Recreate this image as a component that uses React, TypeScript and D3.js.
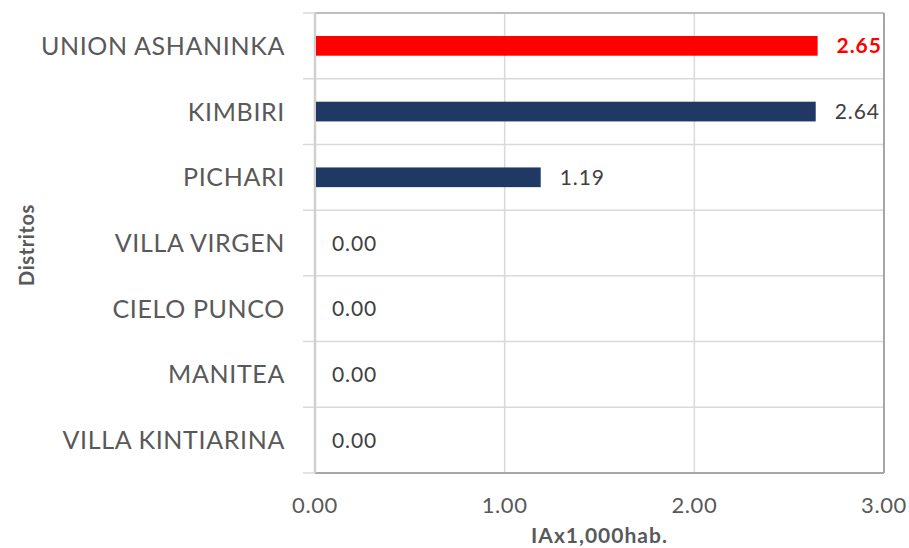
import React from 'react';
import * as d3 from 'd3';

const districts = ['UNION ASHANINKA', 'KIMBIRI', 'PICHARI', 'VILLA VIRGEN', 'CIELO PUNCO', 'MANITEA', 'VILLA KINTIARINA'];
const rates = [2.65, 2.64, 1.19, 0, 0, 0, 0];
const xTicks = [0, 1, 2, 3];
const highlight = 'UNION ASHANINKA';

const W = 909;
const H = 548;
const margin = { top: 13, right: 25, bottom: 75, left: 315 };
const FONT = 'Lato, "Open Sans", sans-serif';

export default function App() {
  const x = d3.scaleLinear().domain([0, 3]).range([margin.left, W - margin.right]);
  const y = d3.scaleBand<string>().domain(districts).range([margin.top, H - margin.bottom]).padding(0);
  const barH = y.bandwidth() * 0.3;
  const fmt = d3.format('.2f');
  const top = margin.top;
  const bottom = H - margin.bottom;

  return (
    <svg width={W} height={H} style={{ position: 'absolute', left: 0, top: 0, fontFamily: FONT }}>
      <rect width={W} height={H} fill="#fff" />
      {/* horizontal grid between categories */}
      {districts.map((d, i) => (
        i > 0 ? <line key={d} x1={303} x2={x(3)} y1={y(d)} y2={y(d)} stroke="#d9d9d9" strokeWidth={1.5} /> : null
      ))}
      <line x1={303} x2={x(0)} y1={top} y2={top} stroke="#d9d9d9" strokeWidth={1.5} />
      <line x1={303} x2={x(0)} y1={bottom} y2={bottom} stroke="#d9d9d9" strokeWidth={1.5} />
      {/* vertical grid */}
      {xTicks.slice(1, -1).map(t => (
        <line key={t} x1={x(t)} x2={x(t)} y1={top} y2={bottom} stroke="#d9d9d9" strokeWidth={1.5} />
      ))}
      {/* plot border */}
      <line x1={x(0)} x2={x(3)} y1={top} y2={top} stroke="#bfbfbf" strokeWidth={2} />
      <line x1={x(0)} x2={x(3)} y1={bottom} y2={bottom} stroke="#a6a6a6" strokeWidth={2} />
      <line x1={x(3)} x2={x(3)} y1={top} y2={bottom} stroke="#a6a6a6" strokeWidth={2} />
      <line x1={x(0)} x2={x(0)} y1={top} y2={bottom} stroke="#d0d0d0" strokeWidth={2.5} />

      {districts.map((d, i) => {
        const v = rates[i];
        const cy = (y(d) ?? 0) + y.bandwidth() / 2;
        const isHi = d === highlight;
        return (
          <g key={d}>
            {v > 0 && (
              <rect x={x(0) + 1} y={cy - barH / 2} width={x(v) - x(0) - 1} height={barH} fill={isHi ? '#ff0000' : '#203864'} />
            )}
            <text x={x(v) + (v > 0 ? 19 : 17)} y={cy} dy="0.36em" fontSize={21} letterSpacing={0.9}
              fill={isHi ? '#ff0000' : '#404040'} fontWeight={isHi ? 700 : 400}>
              {fmt(v)}
            </text>
            <text x={285} y={cy} dy="0.36em" textAnchor="end" fontSize={25} letterSpacing={0.65} fill="#595959">
              {d}
            </text>
          </g>
        );
      })}

      {xTicks.map(t => (
        <text key={t} x={x(t)} y={505} dy="0.36em" textAnchor="middle" fontSize={22} letterSpacing={0.6} fill="#595959">
          {fmt(t)}
        </text>
      ))}
      <text x={(x(0) + x(3)) / 2} y={535} dy="0.36em" textAnchor="middle" fontSize={21} letterSpacing={1} fontWeight={700} fill="#595959">
        IAx1,000hab.
      </text>
      <text transform={`translate(27,${(top + bottom) / 2 + 2}) rotate(-90)`} dy="0.36em" textAnchor="middle" fontSize={20} letterSpacing={0.6} fontWeight={700} fill="#595959">
        Distritos
      </text>
    </svg>
  );
}
